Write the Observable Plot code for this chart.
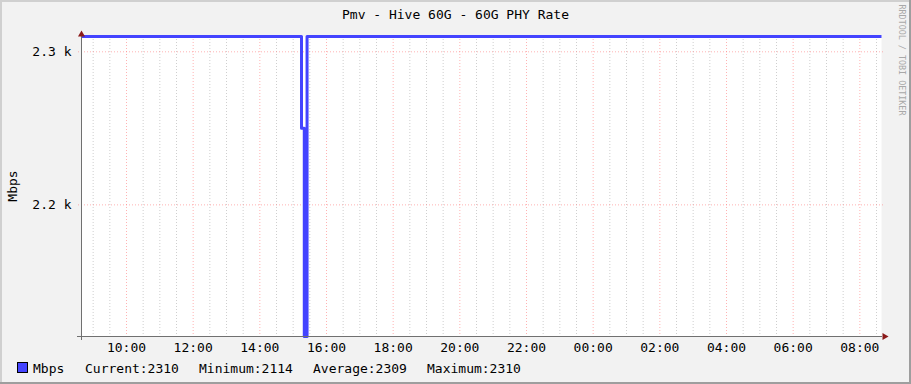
<!DOCTYPE html>
<html><head><meta charset="utf-8">
<script src="https://cdn.jsdelivr.net/npm/d3@7"></script>
<script src="https://cdn.jsdelivr.net/npm/@observablehq/plot@0.6"></script>
<style>
html,body{margin:0;padding:0;background:#f2f2f2;}
#wrap{position:relative;width:911px;height:384px;overflow:hidden;background:#f2f2f2;font-family:"DejaVu Sans Mono",monospace;color:#000;}
#wrap svg{position:absolute;left:0;top:0;}
.t{position:absolute;white-space:pre;font-size:13px;line-height:1;}
.bd{position:absolute;}
</style></head><body>
<div id="wrap"></div>
<script>
// ---- data ----
const title = "Pmv - Hive 60G - 60G PHY Rate";
const yLabel = "Mbps";
const watermark = "RRDTOOL / TOBI OETIKER";
const timeStart = "2024-01-01T08:39Z";
const timeEnd = "2024-01-02T08:39Z";
const times = ["2024-01-01T08:39Z", "2024-01-01T15:15Z", "2024-01-01T15:20Z", "2024-01-01T15:25Z", "2024-01-02T08:39Z"];
const values = [2310, 2250, 2114, 2310, 2310];
const yDomain = [2114, 2310];
const yTicks = [2200, 2300];
const yTickLabels = ["2.2 k", "2.3 k"];
const xTicks = ["2024-01-01T10:00Z", "2024-01-01T12:00Z", "2024-01-01T14:00Z", "2024-01-01T16:00Z", "2024-01-01T18:00Z", "2024-01-01T20:00Z", "2024-01-01T22:00Z", "2024-01-02T00:00Z", "2024-01-02T02:00Z", "2024-01-02T04:00Z", "2024-01-02T06:00Z", "2024-01-02T08:00Z"];
const xTickLabels = ["10:00", "12:00", "14:00", "16:00", "18:00", "20:00", "22:00", "00:00", "02:00", "04:00", "06:00", "08:00"];
const legendName = "Mbps";
const legendStats = ["Current:2310", "Minimum:2114", "Average:2309", "Maximum:2310"];

// ---- build ----
const start = new Date(timeStart), end = new Date(timeEnd);
const data = times.map((t, i) => ({t: new Date(t), v: values[i]}));
const major = xTicks.map(d => new Date(d));
const majorSet = new Set(major.map(d => +d));
const minor = d3.utcMinute.every(30).range(start, end).filter(d => !majorSet.has(+d));
const lineColor = "#4444ff";
const majorGrid = "#ff8080";
const minorGrid = "#a8a8a8";
const axisColor = "#707070";
const arrowColor = "#8b1a1a";

const plot = Plot.plot({
  width: 911, height: 384,
  marginLeft: 81, marginRight: 30, marginTop: 36, marginBottom: 48,
  style: {background: "transparent", fontFamily: "DejaVu Sans Mono, monospace", fontSize: "13px", overflow: "visible"},
  x: {type: "utc", domain: [start, end], label: null},
  y: {domain: yDomain, label: null},
  marks: [
    Plot.frame({fill: "white", stroke: "none"}),
    Plot.gridX(minor, {stroke: minorGrid, strokeOpacity: 0.55, strokeDasharray: "1,2", insetBottom: -2}),
    Plot.gridX(major, {stroke: majorGrid, strokeOpacity: 0.6, strokeDasharray: "1,2", insetBottom: -3}),
    Plot.gridY(yTicks, {stroke: majorGrid, strokeOpacity: 0.6, strokeDasharray: "1,2", insetLeft: -3, insetRight: -2}),
    Plot.line(data, {x: "t", y: "v", curve: "step-after", stroke: lineColor, strokeWidth: 3, strokeLinecap: "butt"}),
    Plot.ruleY([yDomain[0]], {stroke: axisColor, strokeWidth: 1, insetLeft: -4, insetRight: -1}),
    Plot.ruleX([start], {stroke: axisColor, strokeWidth: 1, insetTop: -2, insetBottom: -4}),
    Plot.dot([0], {x: () => start, y: () => yDomain[1], symbol: "triangle", r: 2.6, fill: arrowColor, stroke: "none", dy: -2}),
    Plot.dot([0], {x: () => end, y: () => yDomain[0], symbol: "triangle", r: 2.6, fill: arrowColor, stroke: "none", rotate: 90, dx: 3}),
    Plot.axisX(major, {tickSize: 0, tickPadding: 6, tickFormat: (d, i) => xTickLabels[i], fontSize: 13, fill: "#000", label: null}),
    Plot.axisY(yTicks, {tickSize: 0, tickPadding: 10, tickFormat: (d, i) => yTickLabels[i], fontSize: 13, fill: "#000", label: null})
  ]
});
const wrap = document.getElementById("wrap");
wrap.appendChild(plot);

function addText(txt, css) {
  const d = document.createElement("div");
  d.className = "t"; d.textContent = txt;
  Object.assign(d.style, css);
  wrap.appendChild(d);
  return d;
}
addText(title, {left: "0px", width: "911px", textAlign: "center", top: "8px"});
addText(yLabel, {left: "12px", top: "186px", transform: "translate(-50%,-50%) rotate(-90deg)"});
addText(watermark, {left: "902px", top: "60px", fontSize: "8.4px", color: "#a8a8a8", transform: "translate(-50%,-50%) rotate(90deg)"});
// legend
const sw = document.createElement("div");
Object.assign(sw.style, {position: "absolute", left: "17px", top: "362px", width: "9px", height: "9px", background: lineColor, border: "1px solid #000"});
wrap.appendChild(sw);
addText(legendName, {left: "33px", top: "362px"});
const lx = [85, 199, 313, 427];
legendStats.forEach((s, i) => addText(s, {left: lx[i] + "px", top: "362px"}));
// borders (3D shade)
const borders = [
  {left: "0px", top: "0px", width: "911px", height: "2px", background: "#d0d0d0"},
  {left: "0px", top: "0px", width: "2px", height: "384px", background: "#d0d0d0"},
  {left: "909px", top: "0px", width: "2px", height: "384px", background: "#9e9e9e"},
  {left: "0px", top: "382px", width: "911px", height: "2px", background: "#9e9e9e"}
];
borders.forEach(b => { const d = document.createElement("div"); d.className = "bd"; Object.assign(d.style, b); wrap.appendChild(d); });
</script>
</body></html>
